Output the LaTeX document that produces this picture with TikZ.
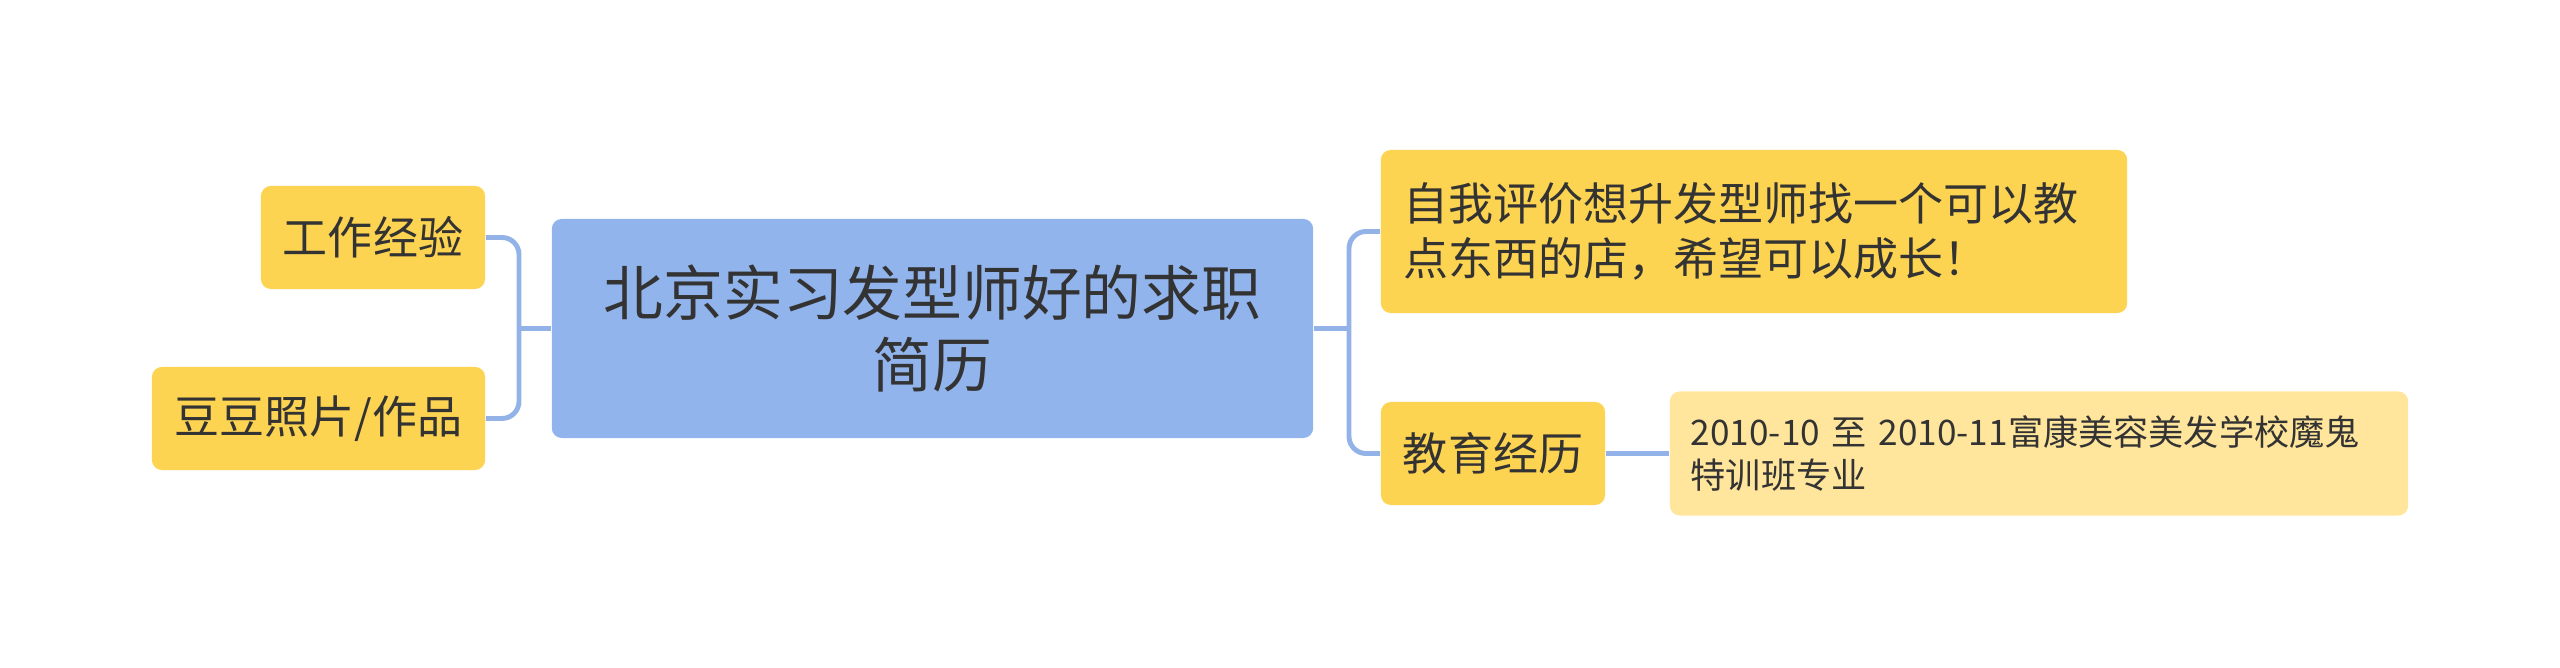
\documentclass[tikz,border=0pt]{standalone}
\usepackage{fontspec}
\newfontfamily\cjk{Noto Sans CJK SC}
\usepackage{tikz}
\usetikzlibrary{positioning}
\definecolor{rootblue}{HTML}{92B4EC}
\definecolor{linkblue}{HTML}{92B2E8}
\definecolor{topicyellow}{HTML}{FDD352}
\definecolor{noteyellow}{HTML}{FFE69C}
\definecolor{inkgray}{HTML}{333333}

\begin{document}
\begin{tikzpicture}[x=0.01cm,y=-0.01cm,
    rootbox/.style={fill=rootblue,rounded corners=0.1cm,inner sep=0pt,align=center,
      text=inkgray,font=\cjk\fontsize{17}{20.5}\selectfont},
    topicbox/.style={fill=topicyellow,rounded corners=0.1cm,inner sep=0pt,
      text=inkgray,font=\cjk\fontsize{12.8}{15.7}\selectfont},
    notebox/.style={fill=noteyellow,rounded corners=0.1cm,inner sep=0pt,
      text=inkgray,font=\cjk\fontsize{10}{12.5}\selectfont},
    link/.style={draw=linkblue,line width=1.4pt,rounded corners=0.17cm}]
  \useasboundingbox (0,0) rectangle (2560,668);
  % central topic
  \node[rootbox,minimum width=7.61cm,minimum height=2.19cm] (root) at (932.5,328.5)
    {北京实习发型师好的求职\\简历};
  % left branch
  \node[topicbox,minimum width=2.24cm,minimum height=1.03cm] (work) at (373,237.5) {工作经验};
  \node[topicbox,minimum width=3.33cm,minimum height=1.03cm] (photo) at (318.5,418.5) {豆豆照片/作品};
  % right branch
  \node[topicbox,text width=7.0cm,minimum height=1.63cm,align=left,inner xsep=0.23cm] (self) at (1754,231.5)
    {自我评价想升发型师找一个可以教\\点东西的店，希望可以成长！};
  \node[topicbox,minimum width=2.24cm,minimum height=1.03cm] (edu) at (1493,453.5) {教育经历};
  \node[notebox,text width=6.96cm,minimum height=1.24cm,align=left,inner xsep=0.21cm] (school) at (2039,453.5)
    {2010-10 至 2010-11富康美容美发学校魔鬼\\特训班专业};
  % connectors
  \coordinate (lj) at (519,328.5);
  \coordinate (rj) at (1349,328.5);
  \draw[link] (work.east) -| (lj) |- (photo.east);
  \draw[link] (root.west) -- (lj);
  \draw[link] (self.west) -| (rj) |- (edu.west);
  \draw[link] (root.east) -- (rj);
  \draw[link] (edu.east) -- (school.west);
\end{tikzpicture}
\end{document}
